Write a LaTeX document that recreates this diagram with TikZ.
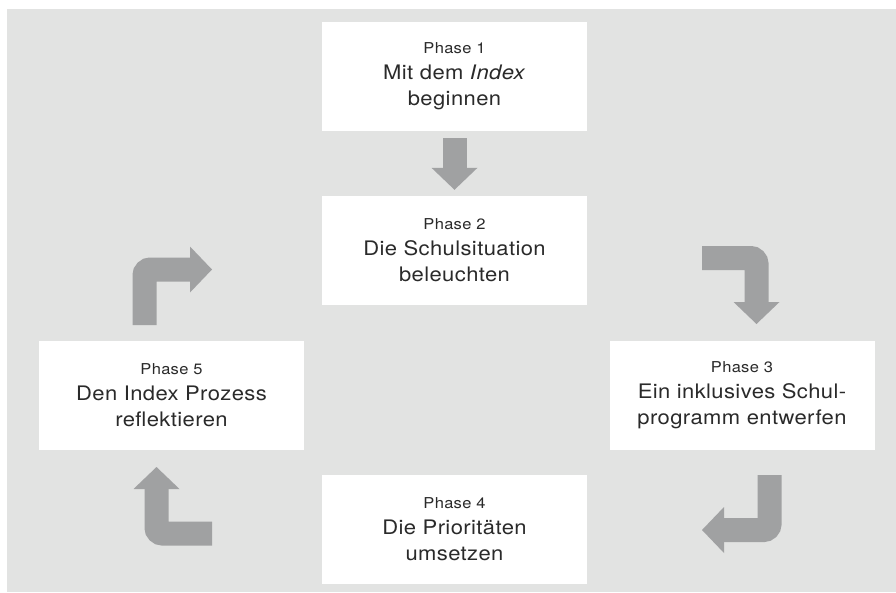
\documentclass[tikz,border=0pt]{standalone}
\usepackage{fontspec}
\setmainfont{TeX Gyre Heros}[FakeStretch=1.1,LetterSpace=2]
\usetikzlibrary{arrows.meta}
\definecolor{bggray}{HTML}{E2E3E2}
\definecolor{arrowgray}{HTML}{A0A1A2}
\definecolor{textgray}{HTML}{2A2A2A}
\newcommand{\phaselabel}[1]{{\fontsize{15}{26}\selectfont #1}}

\begin{document}
\begin{tikzpicture}[x=1pt,y=-1pt,
  phasebox/.style={fill=white,minimum width=265pt,minimum height=109pt,inner sep=0pt,
    align=center,text=textgray,font=\fontsize{20}{26}\selectfont},
  flowarrow/.style={draw=arrowgray,line width=24pt,
    -{Triangle[width=46pt,length=22pt,line width=0pt]}},
  bentarrow/.style={flowarrow,rounded corners=6pt}]
\useasboundingbox (0,0) rectangle (896,592);
\fill[bggray] (7,9) rectangle (896,592);

\node[phasebox] (p1) at (454.5,76.5) {\phaselabel{Phase 1}\\Mit dem \textit{Index}\\beginnen};
\node[phasebox] (p2) at (454.5,250.5) {\phaselabel{Phase 2}\\Die Schulsituation\\beleuchten};
\node[phasebox] (p3) at (742,395.5) {\phaselabel{Phase 3}\\Ein inklusives Schul-\\programm entwerfen};
\node[phasebox] (p4) at (454.5,529.5) {\phaselabel{Phase 4}\\Die Prioritäten\\umsetzen};
\node[phasebox] (p5) at (171.5,395.5) {\phaselabel{Phase 5}\\Den Index Prozess\\reflektieren};

\coordinate (a23s) at (702,258);
\coordinate (a23e) at (756.5,324);
\coordinate (a34s) at (769.5,475);
\coordinate (a34e) at (702,530);
\coordinate (a45s) at (212,533.5);
\coordinate (a45e) at (156.5,467);
\coordinate (a52s) at (144.5,325);
\coordinate (a52e) at (212,269.5);

\draw[flowarrow] ([yshift=-7pt]p1.south) -- ([yshift=6pt]p2.north);
\draw[bentarrow] (a23s) -| (a23e);
\draw[bentarrow] (a34s) |- (a34e);
\draw[bentarrow] (a45s) -| (a45e);
\draw[bentarrow] (a52s) |- (a52e);
\end{tikzpicture}
\end{document}
